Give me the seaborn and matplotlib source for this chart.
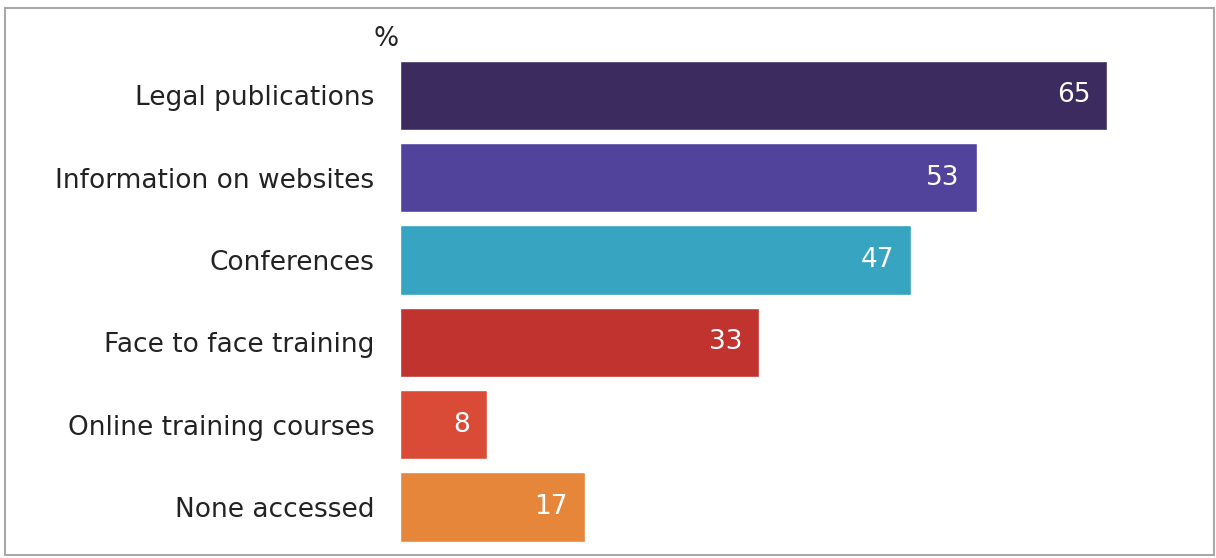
import matplotlib
matplotlib.use("Agg")
import matplotlib.pyplot as plt
from matplotlib.patches import Rectangle
import seaborn as sns
import pandas as pd

categories = [
    "Legal publications",
    "Information on websites",
    "Conferences",
    "Face to face training",
    "Online training courses",
    "None accessed",
]
values = [65, 53, 47, 33, 8, 17]
colors = ["#3b2b5e", "#51439c", "#37a5c2", "#c0332f", "#d94b36", "#e5863a"]

sns.set_theme(style="white")
plt.rcParams["font.family"] = ["DejaVu Sans"]

df = pd.DataFrame({"category": categories, "value": values})

W, H = 1216, 558
fig = plt.figure(figsize=(W / 100, H / 100), dpi=100)
ax_left, ax_right = 400 / W, 1161.6 / W
ax_top, ax_bottom = 1 - 54.3 / H, 1 - 548.1 / H
ax = fig.add_axes([ax_left, ax_bottom, ax_right - ax_left, ax_top - ax_bottom])

sns.barplot(
    data=df, x="value", y="category", hue="category",
    palette=colors, order=categories, hue_order=categories,
    width=0.84, saturation=1, legend=False, ax=ax,
)

ax.set_xlim(0, 70)
ax.set_ylim(5.5, -0.5)
ax.set_xlabel("")
ax.set_ylabel("")
ax.set_xticks([])
for s in ax.spines.values():
    s.set_visible(False)
ax.tick_params(axis="y", length=0, pad=18.5, labelsize=19, labelcolor="#222222")

for i, v in enumerate(values):
    ax.annotate(
        f"{v}", xy=(v, i), xytext=(-12.2, 0), textcoords="offset points",
        ha="right", va="center", color="white", fontsize=19,
    )

fig.text(386 / W, 1 - 39 / H, "%", ha="center", va="center",
         fontsize=19, color="#222222")

fig.patches.append(Rectangle((5 / W, 1 - 555 / H), 1209 / W, 547 / H,
                             transform=fig.transFigure, fill=False,
                             edgecolor="#a8a8a8", linewidth=1.5))

fig.savefig("out.png", dpi=100)
